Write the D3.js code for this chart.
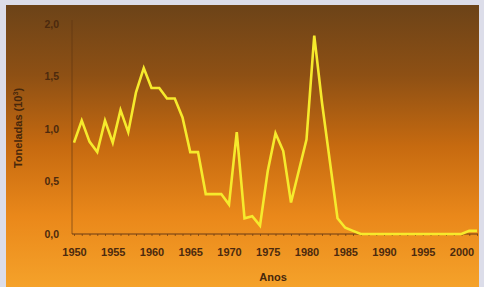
<!DOCTYPE html>
<html lang="pt">
<head>
<meta charset="UTF-8">
<title>Toneladas por ano</title>
<script src="https://d3js.org/d3.v7.min.js"></script>
<style>
    html, body { margin: 0; padding: 0; background: #dcdde9; }
    svg { display: block; }
    .tick text { font-family: "Liberation Sans", Arial, sans-serif; font-weight: bold; fill: #4c2a0e; }
    .axis-title { font-family: "Liberation Sans", Arial, sans-serif; font-weight: bold; fill: #46270c; font-size: 11px; }
</style>
</head>
<body>
<svg width="484" height="287"></svg>
<script>
    var years = d3.range(1950, 2003);
    var toneladas = [
        0.87, 1.08, 0.88, 0.78, 1.08, 0.87, 1.18, 0.97, 1.35, 1.58,
        1.39, 1.39, 1.29, 1.29, 1.11, 0.78, 0.78, 0.38, 0.38, 0.38,
        0.28, 0.97, 0.15, 0.17, 0.08, 0.60, 0.96, 0.79, 0.30, 0.60,
        0.90, 1.89, 1.25, 0.70, 0.15, 0.06, 0.03, 0.0, 0.0, 0.0,
        0.0, 0.0, 0.0, 0.0, 0.0, 0.0, 0.0, 0.0, 0.0, 0.0,
        0.0, 0.03, 0.03
    ];
    var yTicks = [0, 0.5, 1.0, 1.5, 2.0];
    var xTicks = [1950, 1955, 1960, 1965, 1970, 1975, 1980, 1985, 1990, 1995, 2000];

    var svg = d3.select("svg");

    // fundo em degradê
    var grad = svg.append("defs").append("linearGradient")
        .attr("id", "bg").attr("x1", 0).attr("y1", 0).attr("x2", 0).attr("y2", 1);
    [["0", "#6c4318"], ["0.25", "#8e5014"], ["0.5", "#c66a10"], ["0.75", "#ea881a"], ["1", "#f5a22a"]]
        .forEach(function(s) { grad.append("stop").attr("offset", s[0]).attr("stop-color", s[1]); });

    svg.append("rect")
        .attr("x", 6).attr("y", 5).attr("width", 473).attr("height", 282)
        .attr("fill", "url(#bg)");

    var x = d3.scaleLinear().domain([1950, 2002]).range([74, 477]);
    var y = d3.scaleLinear().domain([0, 2]).range([234, 24]);

    // eixo x
    var xAxis = svg.append("g").attr("transform", "translate(0,234)");
    xAxis.call(d3.axisBottom(x).tickValues(d3.range(1950, 2003)).tickSize(2).tickFormat(""))
        .call(function(g) { g.select(".domain").attr("stroke", "#6a3a12").attr("d", "M72,0H478"); })
        .call(function(g) { g.selectAll(".tick line").attr("stroke", "#6a3a12").attr("stroke-opacity", 0.7); });
    svg.append("g").attr("transform", "translate(0,234)")
        .call(d3.axisBottom(x).tickValues(xTicks).tickSize(0).tickPadding(14).tickFormat(d3.format("d")))
        .call(function(g) { g.select(".domain").remove(); })
        .selectAll("text").style("font-size", "11px");

    // eixo y
    svg.append("g").attr("transform", "translate(72,0)")
        .call(d3.axisLeft(y).tickValues(yTicks).tickSize(0).tickPadding(13)
            .tickFormat(function(d) { return d3.format(".1f")(d).replace(".", ","); }))
        .call(function(g) { g.select(".domain").attr("stroke", "#5a3210").attr("stroke-opacity", 0.6).attr("d", "M0,20V234"); })
        .selectAll("text").style("font-size", "10.5px");

    // linha de dados
    var line = d3.line()
        .x(function(d, i) { return x(years[i]); })
        .y(function(d) { return y(d); });

    svg.append("path")
        .datum(toneladas)
        .attr("d", line)
        .attr("fill", "none")
        .attr("stroke", "#f6ea2c")
        .attr("stroke-width", 2.6)
        .attr("stroke-linejoin", "miter");

    // títulos
    svg.append("text")
        .attr("class", "axis-title")
        .attr("x", 273).attr("y", 281)
        .attr("text-anchor", "middle")
        .text("Anos");

    var yt = svg.append("text")
        .attr("class", "axis-title")
        .attr("text-anchor", "middle")
        .attr("transform", "translate(22,128) rotate(-90)");
    yt.append("tspan").text("Toneladas (10");
    yt.append("tspan").attr("dy", -4).style("font-size", "7px").text("3");
    yt.append("tspan").attr("dy", 4).text(")");
</script>
</body>
</html>
